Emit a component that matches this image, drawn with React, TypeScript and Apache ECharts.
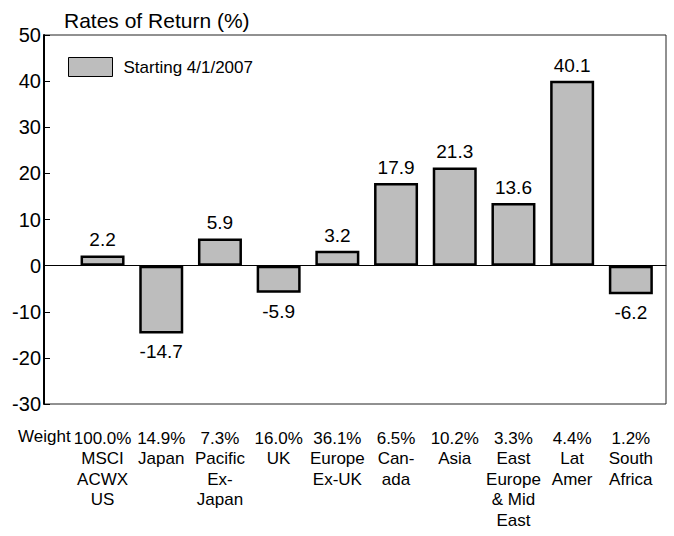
import React, { useEffect, useRef } from "react";
import * as echarts from "echarts";

const categories = [
  "MSCI\nACWX\nUS",
  "Japan",
  "Pacific\nEx-\nJapan",
  "UK",
  "Europe\nEx-UK",
  "Can-\nada",
  "Asia",
  "East\nEurope\n& Mid\nEast",
  "Lat\nAmer",
  "South\nAfrica",
];
const weights = ["100.0%", "14.9%", "7.3%", "16.0%", "36.1%", "6.5%", "10.2%", "3.3%", "4.4%", "1.2%"];
const returns = [2.2, -14.7, 5.9, -5.9, 3.2, 17.9, 21.3, 13.6, 40.1, -6.2];
const seriesName = "Starting 4/1/2007";
const titleText = "Rates of Return (%)";

const FONT = "'Liberation Sans Narrow', 'Arial Narrow', 'Liberation Sans', Arial, sans-serif";

export default function App() {
  const ref = useRef<HTMLDivElement>(null);
  useEffect(() => {
    if (!ref.current) return;
    const chart = echarts.init(ref.current, null, { renderer: "svg" });
    const labels = categories.map((c, i) => weights[i] + "\n" + c);
    chart.setOption({
      animation: false,
      backgroundColor: "#fff",
      textStyle: { fontFamily: FONT, color: "#000" },
      title: {
        text: titleText,
        left: 59,
        top: 5,
        textStyle: { fontFamily: FONT, fontSize: 21, fontWeight: "normal", color: "#000" },
      },
      legend: {
        left: 63,
        top: 52,
        icon: "rect",
        itemWidth: 44,
        itemHeight: 19,
        itemGap: 10,
        textStyle: { fontFamily: FONT, fontSize: 17, color: "#000", padding: [0, 0, 0, 6] },
        data: [seriesName],
        itemStyle: { borderWidth: 1, borderColor: "#000" },
      },
      graphic: [
        {
          type: "text",
          left: 18,
          top: 428,
          style: { text: "Weight", fontFamily: FONT, fontSize: 17, fill: "#000" },
        },
      ],
      grid: [
        { left: 44, top: 35, width: 622, height: 369, show: true, borderColor: "#222", borderWidth: 1, containLabel: false },
        { left: 73.2, top: 35, width: 587, height: 369, containLabel: false },
      ],
      xAxis: [
        {
          gridIndex: 0,
          type: "value",
          min: 0,
          max: 1,
          axisLine: { show: true, onZero: true, lineStyle: { color: "#000", width: 1 } },
          axisTick: { show: false },
          axisLabel: { show: false },
          splitLine: { show: false },
        },
        {
          gridIndex: 1,
          type: "category",
          data: labels,
          axisLine: { show: false },
          axisTick: { show: false },
          axisLabel: {
            interval: 0,
            margin: 24,
            fontFamily: FONT,
            fontSize: 17,
            lineHeight: 20.5,
            color: "#000",
            align: "center",
          },
        },
      ],
      yAxis: [
        {
          gridIndex: 0,
          type: "value",
          min: -30,
          max: 50,
          interval: 10,
          axisLine: { show: true, lineStyle: { color: "#000", width: 2 } },
          axisTick: { show: true, inside: true, length: 6, lineStyle: { color: "#000", width: 1 } },
          axisLabel: { fontFamily: FONT, fontSize: 20, color: "#000", margin: 3 },
          splitLine: { show: false },
        },
        {
          gridIndex: 1,
          type: "value",
          min: -30,
          max: 50,
          interval: 10,
          show: false,
          splitLine: { show: false },
        },
      ],
      series: [
        {
          name: seriesName,
          type: "bar",
          xAxisIndex: 1,
          yAxisIndex: 1,
          data: returns.map((v) => ({
            value: v,
            label: { position: v >= 0 ? "top" : "bottom", distance: v >= 0 ? 6 : 9 },
          })),
          barWidth: 44,
          itemStyle: { color: "#bdbdbd", borderColor: "#000", borderWidth: 2.5 },
          label: {
            show: true,
            fontFamily: FONT,
            fontSize: 19,
            color: "#000",
            formatter: (p: any) => p.value.toFixed(1),
          },
        },
      ],
    });
    return () => chart.dispose();
  }, []);
  return (
    <div
      ref={ref}
      style={{ position: "absolute", left: 0, top: 0, width: 674, height: 536 }}
    />
  );
}
